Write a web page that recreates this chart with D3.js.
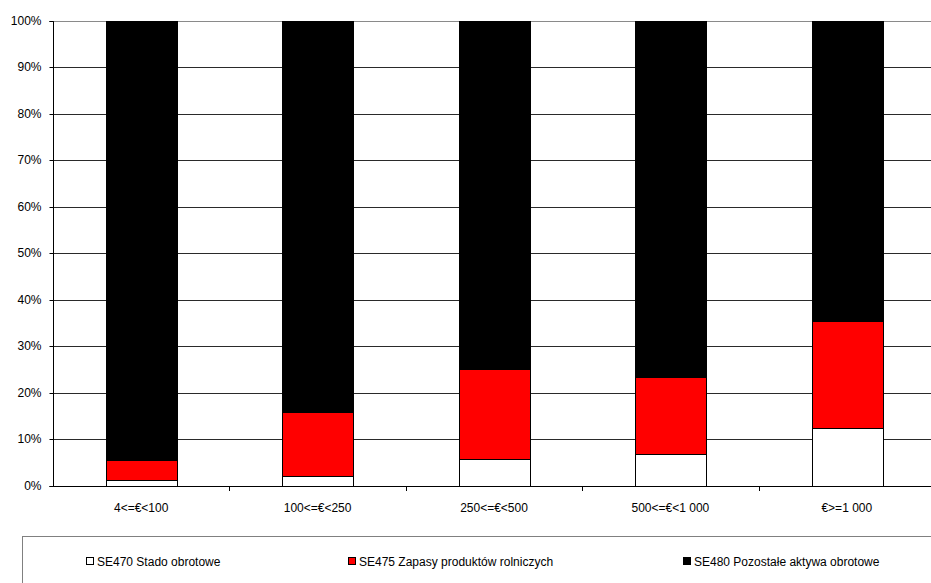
<!DOCTYPE html>
<html><head><meta charset="utf-8">
<script src="https://cdn.jsdelivr.net/npm/d3@7"></script>
<style>body{margin:0;background:#fff}svg{display:block;font-family:"Liberation Sans",Arial,sans-serif}</style>
</head><body><svg id="c" width="931" height="583"></svg>
<script>
const categories = ["4<=€<100","100<=€<250","250<=€<500","500<=€<1 000","€>=1 000"];
const se470 = [1.35, 2.15, 5.8, 6.8, 12.5];
const se475 = [4.3, 13.7, 19.4, 16.6, 23.0];
const se480 = categories.map((c,i)=>100 - se470[i] - se475[i]);
const seriesNames = ["SE470 Stado obrotowe","SE475 Zapasy produktów rolniczych","SE480 Pozostałe aktywa obrotowe"];
const seriesColors = ["#ffffff","#ff0000","#000000"];
const yTicks = [0,10,20,30,40,50,60,70,80,90,100];

const svg = d3.select("#c");
const L = 53, R = 935, T = 20.7, B = 486;
const x = d3.scaleBand().domain(categories).range([L,R]).paddingInner(0.6).paddingOuter(0.3);
const xb = d3.scaleBand().domain(categories).range([L,R]);
const y = d3.scaleLinear().domain([0,100]).range([B,T]);

// gridlines
svg.append("g").selectAll("line").data(yTicks.filter(d=>d>0)).join("line")
  .attr("x1",L).attr("x2",931).attr("y1",d=>Math.round(y(d))+0.5).attr("y2",d=>Math.round(y(d))+0.5)
  .attr("stroke",d=>d===100?"#8a8a8a":"#2a2a2a").attr("stroke-width",1);

const rows = categories.map((c,i)=>({cat:c, se470:se470[i], se475:se475[i], se480:se480[i]}));
const stack = d3.stack().keys(["se470","se475","se480"])(rows);
svg.append("g").selectAll("g").data(stack).join("g")
  .attr("fill",(d,i)=>seriesColors[i])
  .selectAll("rect").data(d=>d).join("rect")
  .attr("x",d=>Math.round(x(d.data.cat))+0.5)
  .attr("width",Math.round(x.bandwidth()))
  .attr("y",d=>Math.round(y(d[1]))+0.5)
  .attr("height",d=>Math.round(y(d[0]))-Math.round(y(d[1])))
  .attr("stroke","#000").attr("stroke-width",1);

// y axis
const ya = d3.axisLeft(y).tickValues(yTicks).tickFormat(d=>d+"%").tickSize(4).tickPadding(8);
const gy = svg.append("g").attr("transform",`translate(${L+0.5},0.5)`).call(ya);
gy.select(".domain").attr("stroke","#000").attr("d",`M-4,${Math.round(B)}H0V${Math.round(T)}H-4`);
gy.selectAll("text").attr("font-size",12).attr("fill","#000").attr("font-family","Liberation Sans, Arial, sans-serif");
gy.selectAll(".tick").attr("transform",d=>`translate(0,${Math.round(y(d))})`);
gy.selectAll(".tick line").attr("stroke","#000");

// x axis
svg.append("line").attr("x1",L).attr("x2",931).attr("y1",B+0.5).attr("y2",B+0.5).attr("stroke","#000");
svg.append("g").selectAll("line").data(categories.slice(1)).join("line")
  .attr("x1",d=>Math.round(xb(d))+0.5).attr("x2",d=>Math.round(xb(d))+0.5)
  .attr("y1",B).attr("y2",B+5).attr("stroke","#000");
svg.append("g").selectAll("text").data(categories).join("text")
  .attr("x",d=>xb(d)+xb.bandwidth()/2).attr("y",512)
  .attr("text-anchor","middle").attr("font-size",12).attr("fill","#000").text(d=>d);

// legend
svg.append("rect").attr("x",22.5).attr("y",536.5).attr("width",920).attr("height",60)
  .attr("fill","none").attr("stroke","#808080").attr("stroke-width",1);
const legX = [86, 348, 683];
const lg = svg.append("g").selectAll("g").data(seriesNames).join("g")
  .attr("transform",(d,i)=>`translate(${legX[i]},562)`);
lg.append("rect").attr("x",0.5).attr("y",-4.5).attr("width",7).attr("height",7)
  .attr("fill",(d,i)=>seriesColors[i]).attr("stroke","#000");
lg.append("text").attr("x",11).attr("y",4).attr("font-size",12).attr("fill","#000").text(d=>d);
</script></body></html>
